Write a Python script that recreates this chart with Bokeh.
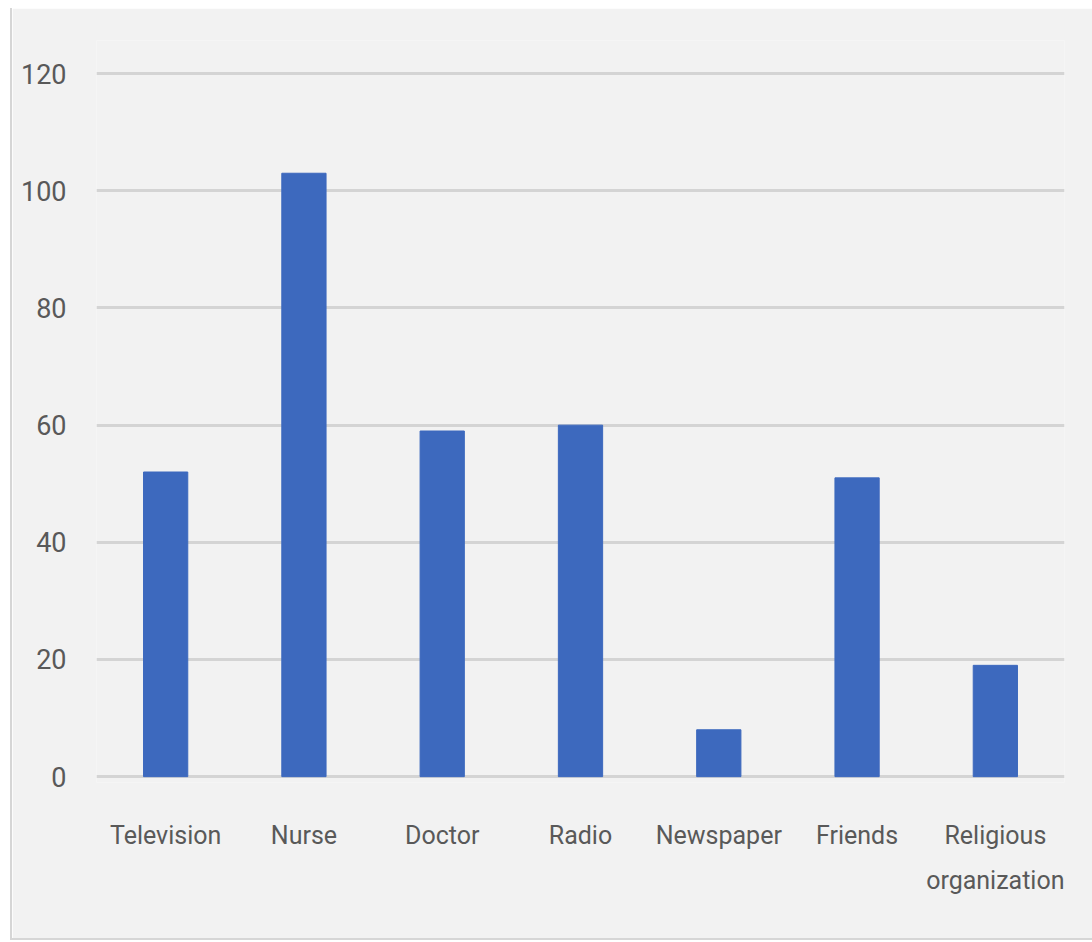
from bokeh.plotting import figure
from bokeh.models import Range1d, FixedTicker, ColumnDataSource, CategoricalAxis, CustomJSTickFormatter
from bokeh.embed import file_html
from bokeh.resources import INLINE

categories = ["Television", "Nurse", "Doctor", "Radio", "Newspaper", "Friends", "Religious organization"]
values = [52, 103, 59, 60, 8, 51, 19]
y_ticks = [0, 20, 40, 60, 80, 100, 120]

src = ColumnDataSource(dict(cat=categories, val=values))

FONT = "Roboto"
TXT = "#595959"

p = figure(x_range=categories, y_range=Range1d(-1, 125.66),
           width=1082, height=932, output_backend="svg", toolbar_location=None,
           min_border_left=84, min_border_right=30, min_border_top=32, min_border_bottom=158)
p.margin = (8, 0, 0, 10)
p.styles = {"border-left": "2px solid #d6d6d6", "border-bottom": "2px solid #d6d6d6", "box-sizing": "border-box"}
p.x_range.range_padding = 0
p.background_fill_color = "#f2f2f2"
p.border_fill_color = "#f2f2f2"
p.outline_line_color = None

p.vbar(x="cat", top="val", bottom=0, width=0.32, source=src, color="#3D69BE")

p.xgrid.grid_line_color = None
p.ygrid.ticker = FixedTicker(ticks=y_ticks)
p.ygrid.grid_line_color = "#d4d4d4"
p.ygrid.grid_line_width = 3
p.ygrid.level = "underlay"

p.yaxis.ticker = FixedTicker(ticks=y_ticks)
p.yaxis.axis_line_color = None
p.yaxis.major_tick_line_color = None
p.yaxis.minor_tick_line_color = None
p.yaxis.major_label_standoff = 24
p.yaxis.major_label_text_font = FONT
p.yaxis.major_label_text_font_size = "27px"
p.yaxis.major_label_text_color = TXT

first_line = CustomJSTickFormatter(code="return tick == 'Religious organization' ? 'Religious' : tick;")
second_line = CustomJSTickFormatter(code="return tick == 'Religious organization' ? 'organization' : '';")

for ax in p.xaxis:
    ax.formatter = first_line
    ax.axis_line_color = None
    ax.major_tick_line_color = None
    ax.major_label_standoff = 32
    ax.major_label_text_font = FONT
    ax.major_label_text_font_size = "25px"
    ax.major_label_text_color = TXT

ax2 = CategoricalAxis(formatter=second_line, axis_line_color=None, major_tick_line_color=None,
                      major_label_standoff=7, major_label_text_font=FONT,
                      major_label_text_font_size="25px", major_label_text_color=TXT)
p.add_layout(ax2, "below")

open("out.html", "w").write(file_html(p, INLINE))
